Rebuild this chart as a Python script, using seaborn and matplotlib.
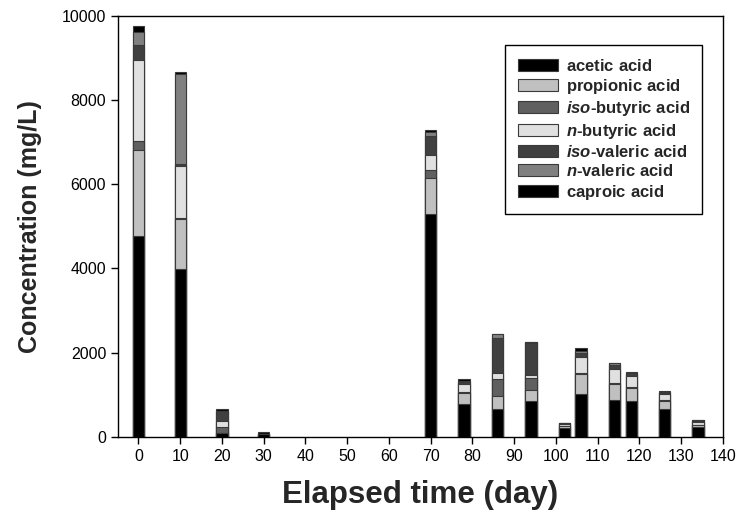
import numpy as np
import pandas as pd
import matplotlib
matplotlib.use("Agg")
import matplotlib.pyplot as plt
import seaborn as sns
from matplotlib.patches import Patch

# ---- data (mg/L) ----
days = [0, 10, 20, 30, 70, 78, 86, 94, 102, 106, 114, 118, 126, 134]
acetic = [4770, 3990, 80, 70, 5290, 777, 658, 856, 214, 1015, 872, 849, 651, 223]
propionic = [2045, 1185, 0, 0, 856, 254, 317, 254, 35, 475, 381, 316, 198, 55]
iso_butyric = [220, 20, 157, 0, 194, 25, 396, 292, 15, 24, 23, 24, 15, 5]
n_butyric = [1918, 1243, 142, 0, 357, 189, 136, 65, 30, 373, 325, 254, 144, 60]
iso_valeric = [357, 35, 231, 0, 451, 48, 832, 753, 25, 95, 103, 64, 38, 20]
n_valeric = [316, 2160, 0, 0, 95, 38, 95, 20, 14, 62, 39, 18, 20, 25]
caproic = [135, 40, 40, 30, 57, 40, 0, 18, 0, 57, 16, 13, 20, 10]

acid_labels = [r"$\mathrm{acetic\ acid}$", r"$\mathrm{propionic\ acid}$",
               "$\\it{iso}\\mathrm{\u2010butyric\\ acid}$", "$\\it{n}\\mathrm{\u2010butyric\\ acid}$",
               "$\\it{iso}\\mathrm{\u2010valeric\\ acid}$", "$\\it{n}\\mathrm{\u2010valeric\\ acid}$",
               r"$\mathrm{caproic\ acid}$"]
colors = ["#000000", "#c0c0c0", "#606060", "#e0e0e0", "#404040", "#808080", "#000000"]

x_ticks = list(range(0, 141, 10))
y_ticks = list(range(0, 10001, 2000))

sns.set_style("ticks")
plt.rcParams['font.family'] = ['Liberation Sans', 'DejaVu Sans']
plt.rcParams['mathtext.fontset'] = 'custom'
plt.rcParams['mathtext.it'] = 'Liberation Sans:italic:bold'
plt.rcParams['mathtext.rm'] = 'Liberation Sans:bold'
plt.rcParams['mathtext.bf'] = 'Liberation Sans:bold'

series = [acetic, propionic, iso_butyric, n_butyric, iso_valeric, n_valeric, caproic]
df = pd.DataFrame({f"s{i}": s for i, s in enumerate(series)})
df["day"] = days
cum = df[[f"s{i}" for i in range(len(series))]].cumsum(axis=1)

fig = plt.figure(figsize=(7.4, 5.22), dpi=100)
ax = fig.add_axes([118 / 740, 1 - 436.7 / 522, (723 - 118) / 740, (436.7 - 16) / 522])

for i in reversed(range(len(series))):
    sns.barplot(x=df["day"], y=cum.iloc[:, i], native_scale=True, color=colors[i],
                saturation=1, width=2.7 / 4, edgecolor="#3a3a3a", linewidth=0.8,
                errorbar=None, ax=ax)

ax.set_xlim(-4.9, 140)
ax.set_ylim(0, 10000)
ax.set_xticks(x_ticks)
ax.set_xticklabels([str(t) for t in x_ticks])
ax.set_yticks(y_ticks)
ax.set_yticklabels([str(t) for t in y_ticks])
ax.tick_params(direction="out", length=5, width=1, labelsize=11.5, colors="black")
for sp in ax.spines.values():
    sp.set_visible(True)
    sp.set_color("black")
    sp.set_linewidth(1)

ax.set_xlabel("Elapsed time (day)", fontsize=22.5, fontweight="bold", labelpad=12)
ax.set_ylabel("Concentration (mg/L)", fontsize=18, fontweight="bold", labelpad=14)

handles = [Patch(facecolor=c, edgecolor="#3a3a3a", linewidth=0.8) for c in colors]
leg = ax.legend(handles, acid_labels, loc="upper left",
                bbox_to_anchor=(505 / 740, 1 - 45 / 522), bbox_transform=fig.transFigure,
                frameon=True, fancybox=False, framealpha=1, edgecolor="black",
                prop={"weight": "bold", "size": 12}, handlelength=2.4, handleheight=0.75,
                labelspacing=0.2, borderpad=0.75, handletextpad=0.5, borderaxespad=0)
leg.get_frame().set_linewidth(1)

fig.savefig("out.png", dpi=100)
